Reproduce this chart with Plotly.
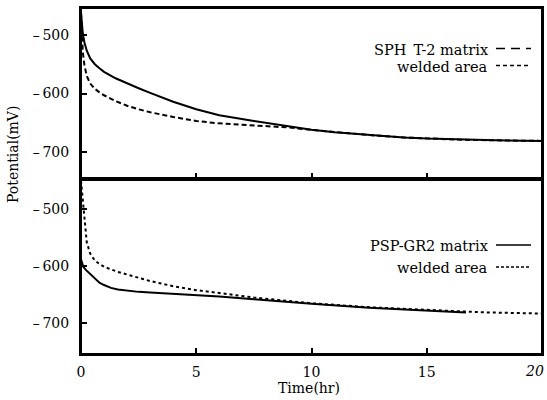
import plotly.graph_objects as go
from plotly.subplots import make_subplots

# --- data ---
top_matrix_t = [0, 0.03, 0.08, 0.15, 0.25, 0.4, 0.6, 0.8, 1.0, 1.5, 2.0, 2.5, 3.0, 4.0, 5.0, 6.0, 7.5, 9.0, 10.0, 11.0, 12.5, 14.0, 15.0, 16.5, 18.0, 20.0]
top_matrix_v = [-462, -480, -498, -513, -527, -540, -550, -557, -563, -574, -583, -591, -599, -614, -627, -637, -647, -656, -662, -666, -671, -675, -677, -679, -680, -681]

top_welded_t = [0, 0.03, 0.08, 0.15, 0.25, 0.4, 0.6, 0.8, 1.0, 1.5, 2.0, 2.5, 3.0, 4.0, 5.0, 6.0, 7.5, 9.0, 10.0, 11.0, 12.5, 14.0, 15.0, 16.5, 18.0, 20.0]
top_welded_v = [-462, -500, -530, -552, -570, -583, -592, -598, -603, -613, -621, -627, -632, -640, -647, -651, -654, -658, -662, -666, -671, -675, -677, -679, -680, -681]

bot_matrix_t = [0, 0.05, 0.1, 0.2, 0.4, 0.6, 0.8, 1.0, 1.3, 1.6, 2.0, 2.5, 3.0, 4.0, 5.0, 6.0, 7.5, 9.0, 10.0, 12.5, 15.0, 16.7]
bot_matrix_v = [-588, -596, -601, -606, -614, -622, -629, -633, -638, -641, -643, -645, -646, -648, -650, -653, -658, -663, -666, -673, -678, -681]

bot_welded_t = [0, 0.05, 0.1, 0.17, 0.25, 0.4, 0.6, 0.8, 1.0, 1.6, 2.25, 3.0, 4.0, 5.0, 6.0, 7.5, 9.0, 10.0, 12.5, 15.0, 17.5, 20.0]
bot_welded_v = [-450, -470, -490, -530, -558, -578, -590, -596, -601, -610, -618, -626, -635, -642, -647, -655, -661, -665, -672, -677, -681, -683]

x_tickvals = [0, 5, 10, 15, 20]
x_ticktext = ["0", "5", "10", "15", "20"]
y_tickvals = [-500, -600, -700]
y_ticktext = ["\u2013\u2009500", "\u2013\u2009600", "\u2013\u2009700"]

FONT = "DejaVu Serif, Liberation Serif, serif"

fig = make_subplots(rows=2, cols=1, shared_xaxes=False, vertical_spacing=0)

fig.add_trace(go.Scatter(x=top_matrix_t, y=top_matrix_v, mode="lines", line=dict(color="black", width=2), showlegend=False), row=1, col=1)
fig.add_trace(go.Scatter(x=top_welded_t, y=top_welded_v, mode="lines", line=dict(color="black", width=2, dash="5px,3px"), showlegend=False), row=1, col=1)
fig.add_trace(go.Scatter(x=bot_matrix_t, y=bot_matrix_v, mode="lines", line=dict(color="black", width=2), showlegend=False), row=2, col=1)
fig.add_trace(go.Scatter(x=bot_welded_t, y=bot_welded_v, mode="lines", line=dict(color="black", width=2, dash="3px,3px"), showlegend=False), row=2, col=1)

split = (354 - 179) / 346.0

axis_common = dict(showline=True, linecolor="black", linewidth=2, mirror=True,
                   ticks="inside", ticklen=6, tickwidth=2, tickcolor="black",
                   showgrid=False, zeroline=False, ticklabeloverflow="allow", automargin=False,
                   tickfont=dict(family=FONT, size=14, color="black"))

# last x tick label is drawn as a right-anchored annotation so it stays inside the page
shown_xticktext = x_ticktext[:-1] + [""]
fig.update_xaxes(range=[0, 20], tickvals=x_tickvals, ticktext=shown_xticktext, **axis_common)
fig.update_xaxes(showticklabels=False, row=1, col=1)
fig.update_xaxes(ticklabelstandoff=4, row=2, col=1)
fig.update_yaxes(tickvals=y_tickvals, ticktext=y_ticktext, ticklabelstandoff=7, **axis_common)
fig.update_yaxes(range=[-746, -454], domain=[split, 1], row=1, col=1)
fig.update_yaxes(range=[-754, -447], domain=[0, split], row=2, col=1)

def px_x(px):
    return (px - 81) / 461.0

def px_y(py):
    return (354 - py) / 346.0

annotations = [
    dict(text="Time(hr)", x=px_x(309), y=px_y(388), xref="paper", yref="paper", showarrow=False,
         font=dict(family=FONT, size=14, color="black"), xanchor="center", yanchor="middle"),
    dict(text="Potential(mV)", x=px_x(13), y=px_y(155), xref="paper", yref="paper", showarrow=False,
         textangle=-90, font=dict(family=FONT, size=14, color="black"), xanchor="center", yanchor="middle"),
    dict(text="<i>" + x_ticktext[-1] + "</i>", x=x_tickvals[-1], xref="x2", y=px_y(371), yref="paper",
         showarrow=False, xanchor="right", yanchor="middle", xshift=4,
         font=dict(family=FONT, size=14, color="black")),
]
legend_items = [
    ("SPH\u2002T-2 matrix", 49.5, "9px,6px"),
    ("welded area", 66.5, "4px,3px"),
    ("PSP-GR2 matrix", 246, "solid"),
    ("welded area", 268, "3px,2px"),
]
shapes = [
    dict(type="rect", xref="x domain", yref="y domain", x0=0, x1=1, y0=0, y1=1,
         line=dict(color="black", width=2), layer="above"),
    dict(type="rect", xref="x2 domain", yref="y2 domain", x0=0, x1=1, y0=0, y1=1,
         line=dict(color="black", width=2), layer="above"),
]
for text, py, dash in legend_items:
    annotations.append(dict(text=text, x=px_x(490), y=px_y(py), xref="paper", yref="paper", showarrow=False,
                            font=dict(family=FONT, size=14.5, color="black"), xanchor="right", yanchor="middle"))
    shapes.append(dict(type="line", xref="paper", yref="paper", x0=px_x(496), x1=px_x(531),
                       y0=px_y(py - 1), y1=px_y(py - 1), line=dict(color="black", width=1.3, dash=dash)))

fig.update_layout(width=547, height=400, margin=dict(l=81, r=5, t=8, b=46, autoexpand=False),
                  plot_bgcolor="white", paper_bgcolor="white",
                  annotations=annotations, shapes=shapes,
                  font=dict(family=FONT, color="black"))

fig.write_html("out.html", config={"displayModeBar": False},
               post_script="document.body.style.margin='0';document.body.style.overflow='hidden';")
